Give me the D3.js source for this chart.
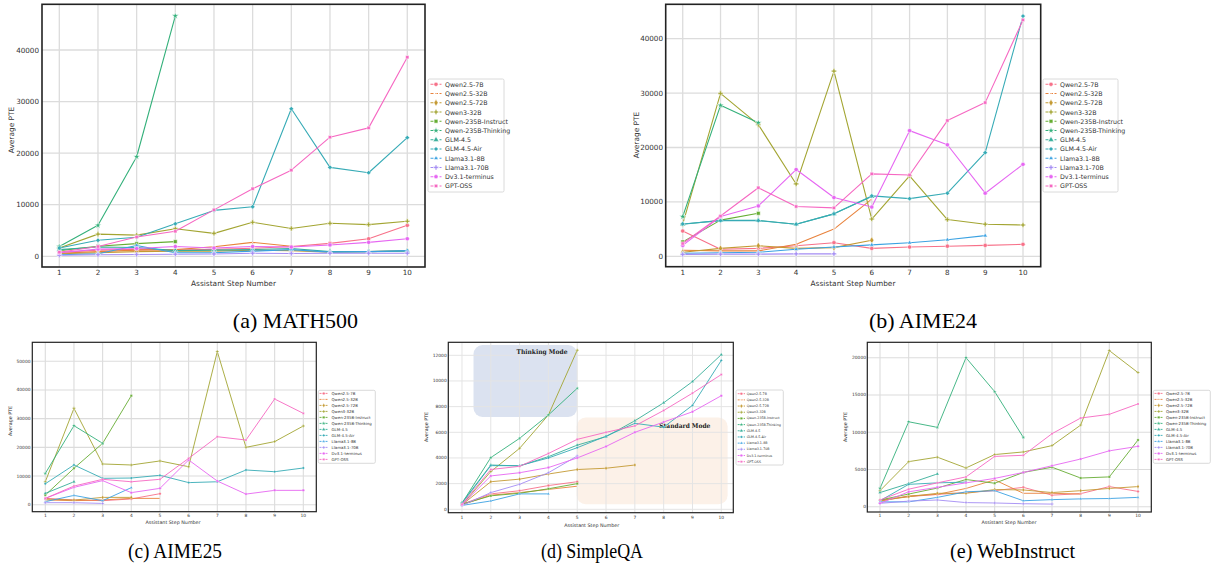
<!DOCTYPE html>
<html><head><meta charset="utf-8">
<script src="https://cdn.jsdelivr.net/npm/d3@7"></script>
<style>body{margin:0;background:#fff}svg{display:block}</style>
</head><body>
<svg id="c" width="1214" height="574"></svg>
<script>
const steps = [1,2,3,4,5,6,7,8,9,10];
const models = ["Qwen2.5-7B","Qwen2.5-32B","Qwen2.5-72B","Qwen3-32B","Qwen-235B-Instruct","Qwen-235B-Thinking","GLM-4.5","GLM-4.5-Air","Llama3.1-8B","Llama3.1-70B","Dv3.1-terminus","GPT-OSS"];
const colors = ["#f77189","#e8823c","#c49a33","#a3a532","#66ad33","#33b07a","#35ae99","#37abb6","#3ba2e2","#a48cf4","#e667f2","#f668c2"];
const captions = ["(a) MATH500","(b) AIME24","(c) AIME25","(d) SimpleQA","(e) WebInstruct"];
const xLabel = "Assistant Step Number";
const yLabel = "Average PTE";
const modeLabels = ["Thinking Mode","Standard Mode"];

const N = null;
// rows follow the order of `models`
const MATH500 = [
  [750,1200,1350,1200,1350,1550,1900,2500,3400,6000],
  [600,900,1200,1300,1850,2700,1950,N,N,N],
  [500,700,900,1000,1000,1200,1100,800,900,1100],
  [1600,4300,4100,5350,4450,6600,5400,6400,6150,6800],
  [1100,1950,2450,2850,N,N,N,N,N,N],
  [1900,6000,19300,46600,N,N,N,N,N,N],
  [1300,1800,1700,1100,1200,1300,1500,900,900,1000],
  [1600,3100,3700,6300,8900,9600,28600,17250,16200,23000],
  [300,500,2100,700,700,1000,1300,800,900,1100],
  [200,300,350,400,450,600,550,600,600,600],
  [700,1400,1500,1900,1600,1900,1800,2200,2700,3400],
  [800,1900,3750,4850,9000,13100,16700,23100,24900,38600]
];
const AIME24 = [
  [4650,1300,1450,1950,2500,1450,1700,1850,2000,2200],
  [1100,1000,1000,2200,5000,10500,N,N,N,N],
  [750,1450,1950,1450,1600,2950,N,N,N,N],
  [5900,29950,24200,13300,34050,6850,14800,6750,5900,5750],
  [2650,6650,7900,N,N,N,N,N,N,N],
  [7300,27750,24550,N,N,N,N,N,N,N],
  [5900,6600,6600,5900,7800,11000,N,N,N,N],
  [5950,6550,6550,5900,7800,11100,10600,11600,19050,44150],
  [550,650,750,1300,1700,2100,2500,3050,3800,N],
  [350,400,400,450,450,N,N,N,N,N],
  [2000,7300,9250,15950,10800,9050,23100,20500,11600,16900],
  [2350,7400,12600,9150,8900,15150,14950,24950,28250,43450]
];
const AIME25 = [
  [2200,1650,1400,2000,3850,N,N,N,N,N],
  [1650,1400,1650,2200,2200,N,N,N,N,N],
  [2000,1600,2550,2550,N,N,N,N,N,N],
  [8000,33600,14200,13850,15250,13250,53400,20000,22000,27450],
  [3350,12700,21400,38000,N,N,N,N,N,N],
  [10900,27550,21400,N,N,N,N,N,N,N],
  [3950,8000,N,N,N,N,N,N,N,N],
  [7300,13850,9200,9300,10250,7700,8000,12100,11500,12800],
  [1050,3250,1400,5950,N,N,N,N,N,N],
  [700,700,450,N,N,N,N,N,N,N],
  [2200,6050,8400,4200,5700,15600,8250,3700,5000,5000],
  [2200,6500,8850,8000,8850,16150,23700,22550,36850,31850]
];
const SimpleQA = [
  [400,1200,1450,1850,2150,N,N,N,N,N],
  [350,1100,1300,1550,1800,N,N,N,N,N],
  [350,2150,2350,2750,3100,3200,3450,N,N,N],
  [340,2940,4750,7350,12400,N,N,N,N,N],
  [400,1050,1250,1600,2000,N,N,N,N,N],
  [470,4030,5530,7350,9430,N,N,N,N,N],
  [520,3450,3380,4100,5000,5660,6900,8300,9950,12050],
  [450,3400,3400,4000,4800,5700,6700,6400,8100,11600],
  [300,650,1200,1200,N,N,N,N,N,N],
  [300,1300,1950,2850,4150,N,N,N,N,N],
  [350,2600,2850,3250,4000,4900,6000,6800,7600,8850],
  [400,3100,3350,4350,5450,6000,6500,7700,9050,10500]
];
const WebInstruct = [
  [900,1350,1650,1900,2150,2600,1550,1750,2700,2050],
  [750,1450,1650,2450,3600,1800,1800,1700,N,N],
  [800,1350,1800,1800,2300,2250,1900,2150,2450,2700],
  [2150,6050,6650,5200,7000,7350,8200,10950,20950,18000],
  [900,1700,2500,3650,3150,4600,5300,3850,4000,8950],
  [2450,11400,10650,20000,15450,9300,N,N,N,N],
  [1900,3100,4400,N,N,N,N,N,N,N],
  [800,3000,3200,3300,N,N,N,N,N,N],
  [650,650,1250,2000,2150,800,950,1050,1100,1250],
  [450,750,900,550,500,400,350,N,N,N],
  [450,2000,2600,3200,3800,4600,5500,6400,7500,8100],
  [900,2350,3200,4000,6750,6900,9800,11900,12400,13800]
];
const ticksMATH500 = [0,10000,20000,30000,40000];
const ticksAIME24 = [0,10000,20000,30000,40000];
const ticksAIME25 = [0,10000,20000,30000,40000,50000];
const ticksSimpleQA = [0,2000,4000,6000,8000,10000,12000];
const ticksWebInstruct = [0,5000,10000,15000,20000];
// SimpleQA shaded regions: [x0,x1,y0,y1]
const thinkingRegion = [1.4,5.0,7200,12800];
const standardRegion = [4.98,10.22,400,7150];

const symbols = [d3.symbolCircle, d3.symbolTimes, d3.symbolDiamond, d3.symbolCross, d3.symbolSquare, d3.symbolStar,
                 d3.symbolTriangle, d3.symbolDiamond2, d3.symbolTriangle2, d3.symbolCross, d3.symbolCircle, d3.symbolSquare2];

const svg = d3.select("#c");

function panel(o){
  const g = svg.append("g");
  const x = d3.scaleLinear().domain(o.xDom).range([o.box[0], o.box[2]]);
  const y = d3.scaleLinear().domain(o.yDom).range([o.box[3], o.box[1]]);
  const [L,T,R,B] = o.box;
  g.append("rect").attr("x",L).attr("y",T).attr("width",R-L).attr("height",B-T).attr("fill","#fff");
  // regions
  if (o.regions) {
    o.regions.forEach(r=>{
      g.append("rect").attr("x",x(r.d[0])).attr("y",y(r.d[3])).attr("width",x(r.d[1])-x(r.d[0]))
        .attr("height",y(r.d[2])-y(r.d[3])).attr("rx",r.rx).attr("fill",r.fill);
    });
  }
  // grid
  g.selectAll(null).data(steps).join("line").attr("x1",d=>x(d)).attr("x2",d=>x(d)).attr("y1",T).attr("y2",B)
    .attr("stroke",o.gridColor).attr("stroke-width",o.gridW);
  g.selectAll(null).data(o.yTicks).join("line").attr("x1",L).attr("x2",R).attr("y1",d=>y(d)).attr("y2",d=>y(d))
    .attr("stroke",o.gridColor).attr("stroke-width",o.gridW);
  if (o.regions) {
    o.regions.forEach(r=>{
      g.append("text").attr("x",x(r.tx)).attr("y",y(r.ty)).attr("font-family","DejaVu Serif").attr("font-weight","bold")
        .attr("font-size",o.regionFs).attr("fill","#222").attr("textLength",r.tl).attr("lengthAdjust","spacingAndGlyphs").text(r.label);
    });
  }
  // lines
  const line = d3.line().defined(d=>d[1]!==null).x(d=>x(d[0])).y(d=>y(d[1]));
  o.data.forEach((row,i)=>{
    const pts = steps.map((s,j)=>[s,row[j]]);
    g.append("path").attr("d",line(pts)).attr("fill","none").attr("stroke",colors[i]).attr("stroke-width",o.lineW)
      .attr("stroke-linejoin","round");
    g.selectAll(null).data(pts.filter(p=>p[1]!==null)).join("path")
      .attr("transform",p=>`translate(${x(p[0])},${y(p[1])})`)
      .attr("d",d3.symbol().type(symbols[i]).size(o.mSize))
      .attr("fill",colors[i]).attr("stroke","#fff").attr("stroke-width",o.mStroke);
  });
  // spines
  g.append("rect").attr("x",L).attr("y",T).attr("width",R-L).attr("height",B-T).attr("fill","none")
    .attr("stroke","#222").attr("stroke-width",o.spineW);
  // ticks
  const tc = "#333";
  g.selectAll(null).data(steps).join("text").attr("x",d=>x(d)).attr("y",o.xtickY).attr("text-anchor","middle")
    .attr("dominant-baseline","central").attr("font-family","DejaVu Sans").attr("font-size",o.tickFs).attr("fill",tc).text(d=>d);
  g.selectAll(null).data(o.yTicks).join("text").attr("x",o.ytickX).attr("y",d=>y(d)).attr("text-anchor","end")
    .attr("dominant-baseline","central").attr("font-family","DejaVu Sans").attr("font-size",o.tickFs).attr("fill",tc).text(d=>d);
  g.append("text").attr("x",o.xlab[0]).attr("y",o.xlab[1]).attr("text-anchor","middle").attr("dominant-baseline","central")
    .attr("font-family","DejaVu Sans").attr("font-size",o.labFs).attr("fill",tc).text(xLabel);
  g.append("text").attr("transform",`translate(${o.ylab[0]},${o.ylab[1]}) rotate(-90)`).attr("text-anchor","middle")
    .attr("dominant-baseline","central").attr("font-family","DejaVu Sans").attr("font-size",o.labFs).attr("fill",tc).text(yLabel);
  // legend
  const lg = o.leg;
  g.append("rect").attr("x",lg.x).attr("y",lg.y).attr("width",lg.w).attr("height",lg.h).attr("rx",1.5)
    .attr("fill","#fff").attr("stroke","#d0d0d0").attr("stroke-width",0.8);
  models.forEach((m,i)=>{
    const yy = lg.r0 + i*lg.step;
    g.append("line").attr("x1",lg.l0).attr("x2",lg.l1).attr("y1",yy).attr("y2",yy).attr("stroke",colors[i])
      .attr("stroke-width",o.lineW).attr("stroke-dasharray",lg.dash);
    g.append("path").attr("transform",`translate(${(lg.l0+lg.l1)/2},${yy})`).attr("d",d3.symbol().type(symbols[i]).size(o.mSize))
      .attr("fill",colors[i]).attr("stroke","#fff").attr("stroke-width",o.mStroke);
    g.append("text").attr("x",lg.tx).attr("y",yy).attr("dominant-baseline","central").attr("font-family","DejaVu Sans")
      .attr("font-size",lg.fs).attr("fill","#333").text(m);
  });
}

panel({data:MATH500, box:[42,4.3,425,267], xDom:[0.552,10.458], yDom:[-2075,48861], yTicks:ticksMATH500,
  gridColor:"#dcdcdc", gridW:1.3, lineW:1.1, mSize:14, mStroke:0.5, spineW:1.6, tickFs:7.2, labFs:7.4,
  xtickY:272.8, ytickX:39, xlab:[233.5,283.7], ylab:[11.5,130],
  leg:{x:428,y:79,w:76,h:113,r0:84.3,step:9.24,l0:430.5,l1:441.5,tx:445,fs:6.3,dash:"3,1.5"}});
panel({data:AIME24, box:[665.7,4.3,1040.7,266.7], xDom:[0.55,10.468], yDom:[-1912,46323], yTicks:ticksAIME24,
  gridColor:"#dcdcdc", gridW:1.3, lineW:1.1, mSize:14, mStroke:0.5, spineW:1.6, tickFs:7.2, labFs:7.4,
  xtickY:272.8, ytickX:663, xlab:[853,283.7], ylab:[636,135],
  leg:{x:1043,y:79,w:75,h:113,r0:84.3,step:9.24,l0:1045.5,l1:1056.5,tx:1060,fs:6.3,dash:"3,1.5"}});
panel({data:AIME25, box:[32.3,342.3,316.3,511.7], xDom:[0.547,10.453], yDom:[-2441,56625], yTicks:ticksAIME25,
  gridColor:"#dcdcdc", gridW:1.1, lineW:0.9, mSize:5, mStroke:0.3, spineW:1.2, tickFs:4.4, labFs:4.8,
  xtickY:515.2, ytickX:30.5, xlab:[173,522.8], ylab:[10,421],
  leg:{x:318.3,y:390.3,w:57,h:73,r0:393.4,step:6.0,l0:319.5,l1:328,tx:331.5,fs:3.9,dash:"2,1"}});
panel({data:SimpleQA, box:[448.3,342.3,733.3,512.7], xDom:[0.525,10.417], yDom:[-265,13013], yTicks:ticksSimpleQA,
  gridColor:"#e4e4e4", gridW:1.0, lineW:0.9, mSize:5, mStroke:0.3, spineW:1.2, tickFs:4.4, labFs:4.8,
  xtickY:517, ytickX:446.7, xlab:[591.7,525], ylab:[426,427],
  regions:[{d:thinkingRegion, fill:"#dbe2f0", rx:9, tx:2.89, ty:12100, tl:51, label:modeLabels[0]},
           {d:standardRegion, fill:"#fcf1e8", rx:9, tx:7.85, ty:6300, tl:51, label:modeLabels[1]}],
  regionFs:6.4,
  leg:{x:736,y:390,w:47.3,h:75,r0:393.7,step:6.18,l0:737.7,l1:745,tx:746.7,fs:3.3,dash:"2,1"}});
panel({data:WebInstruct, box:[867.3,342.3,1151.3,512], xDom:[0.557,10.464], yDom:[-711,22067], yTicks:ticksWebInstruct,
  gridColor:"#dcdcdc", gridW:1.1, lineW:0.9, mSize:5, mStroke:0.3, spineW:1.2, tickFs:4.4, labFs:4.8,
  xtickY:515.3, ytickX:866, xlab:[1009,522.4], ylab:[845,427],
  leg:{x:1153.3,y:390.3,w:57,h:73,r0:393.4,step:6.0,l0:1154.5,l1:1163,tx:1166,fs:3.9,dash:"2,1"}});

// captions
const capPos = [[295.5,328,null],[923,328,null],[175,557.5,94],[592,557.5,102],[1012.5,557.5,125]];
captions.forEach((c,i)=>{
  const t = svg.append("text").attr("x",capPos[i][0]).attr("y",capPos[i][1]).attr("text-anchor","middle")
    .attr("font-family","Liberation Serif").attr("font-size",22).attr("fill","#000").text(c);
  if (capPos[i][2]) t.attr("textLength",capPos[i][2]).attr("lengthAdjust","spacingAndGlyphs");
});
</script>
</body></html>
